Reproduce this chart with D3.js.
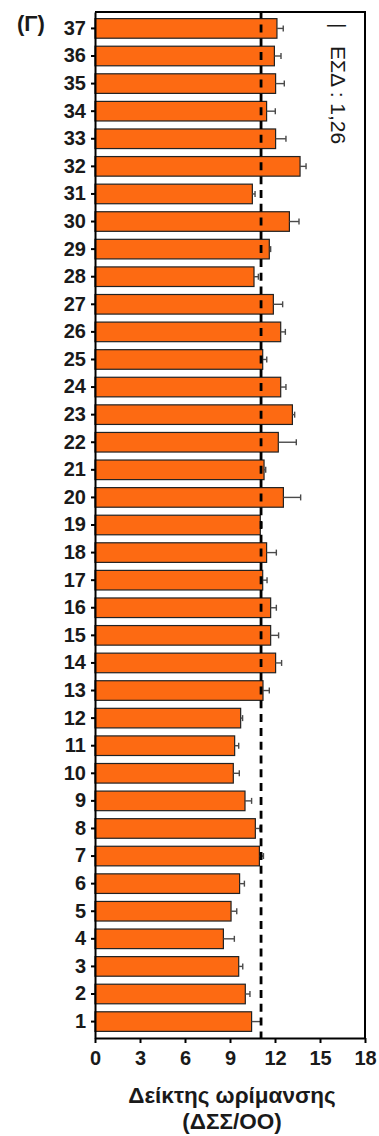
<!DOCTYPE html>
<html>
<head>
<meta charset="utf-8">
<script src="https://cdn.jsdelivr.net/npm/d3@7/dist/d3.min.js"></script>
<style>
  html, body { margin: 0; padding: 0; background: #fff; }
  svg { display: block; font-family: "Liberation Sans", Arial, sans-serif; }
</style>
</head>
<body>
<svg id="chart" width="379" height="1136"></svg>
<script>
// Genotype numbers (1..37) and maturity index means with their standard errors
const genotypes = [1, 2, 3, 4, 5, 6, 7, 8, 9, 10, 11, 12, 13, 14, 15, 16, 17, 18, 19,
  20, 21, 22, 23, 24, 25, 26, 27, 28, 29, 30, 31, 32, 33, 34, 35, 36, 37];
const meanIndex = [10.44, 10.02, 9.58, 8.56, 9.07, 9.64, 10.96, 10.69, 10.00, 9.22,
  9.31, 9.71, 11.20, 12.04, 11.71, 11.71, 11.18, 11.44, 11.02, 12.56, 11.27, 12.22,
  13.16, 12.38, 11.18, 12.38, 11.89, 10.60, 11.62, 12.96, 10.49, 13.67, 12.04, 11.44,
  12.04, 11.96, 12.13];
const stdError = [0.62, 0.31, 0.27, 0.73, 0.38, 0.32, 0.27, 0.31, 0.44, 0.40,
  0.27, 0.13, 0.42, 0.40, 0.53, 0.38, 0.29, 0.65, 0.10, 1.15, 0.11, 1.20,
  0.15, 0.35, 0.27, 0.31, 0.62, 0.29, 0.09, 0.64, 0.18, 0.40, 0.69, 0.58,
  0.58, 0.44, 0.42];
const xTicks = [0, 3, 6, 9, 12, 15, 18];
const referenceMean = 11.07;
const lsdLabel = "|   ΕΣΔ : 1,26";
const panelLabel = "(Γ)";
const axisTitle = ["Δείκτης ωρίμανσης", "(ΔΣΣ/ΟΟ)"];

const rows = genotypes.map((g, i) => ({ g, v: meanIndex[i], e: stdError[i] }));

const svg = d3.select("#chart");
const plotLeft = 95, plotRight = 365, plotTop = 12, plotBottom = 1038;

const x = d3.scaleLinear().domain([0, 18]).range([plotLeft, plotRight]);
const y = d3.scaleBand()
  .domain(genotypes.slice().reverse())
  .range([plotTop, plotBottom])
  .paddingInner(0.29)
  .paddingOuter(0.24);

// bars
svg.append("g").selectAll("rect").data(rows).join("rect")
  .attr("x", x(0))
  .attr("y", d => y(d.g))
  .attr("width", d => x(d.v) - x(0))
  .attr("height", y.bandwidth())
  .attr("fill", "#fd6a12")
  .attr("stroke", "#222")
  .attr("stroke-width", 1.2);

// error bars (upper side only)
const err = svg.append("g").attr("stroke", "#4a4a4a").attr("stroke-width", 1.4);
rows.forEach(d => {
  const cy = y(d.g) + y.bandwidth() / 2;
  err.append("line")
    .attr("x1", x(d.v)).attr("x2", x(d.v + d.e))
    .attr("y1", cy).attr("y2", cy);
  err.append("line")
    .attr("x1", x(d.v + d.e)).attr("x2", x(d.v + d.e))
    .attr("y1", cy - 3).attr("y2", cy + 3);
});

// dashed reference line, one dash through each bar and one through each gap
const period = y.step() / 2;
const dash = 8;
const c0 = y(genotypes[genotypes.length - 1]) + y.bandwidth() / 2 - plotTop;
const offset = ((dash / 2 - c0) % period + period) % period;
svg.append("line")
  .attr("x1", x(referenceMean)).attr("x2", x(referenceMean))
  .attr("y1", plotTop).attr("y2", plotBottom)
  .attr("stroke", "#000")
  .attr("stroke-width", 2.8)
  .attr("stroke-dasharray", `${dash},${period - dash}`)
  .attr("stroke-dashoffset", offset);

// frame top and right
svg.append("path")
  .attr("d", `M${plotLeft},${plotTop}H${plotRight}V${plotBottom}`)
  .attr("fill", "none")
  .attr("stroke", "#000")
  .attr("stroke-width", 2);

// axes
const yAxis = svg.append("g")
  .attr("transform", `translate(${plotLeft},0)`)
  .call(d3.axisLeft(y).tickSize(4).tickSizeOuter(0).tickPadding(5));
const xAxis = svg.append("g")
  .attr("transform", `translate(0,${plotBottom})`)
  .call(d3.axisBottom(x).tickValues(xTicks).tickSize(5).tickSizeOuter(0).tickPadding(8));

[yAxis, xAxis].forEach(a => {
  a.select(".domain").attr("stroke", "#000").attr("stroke-width", 2);
  a.selectAll(".tick line").attr("stroke", "#000").attr("stroke-width", 2);
  a.selectAll(".tick text")
    .attr("fill", "#1a1a1a")
    .attr("font-family", "'Liberation Sans', Arial, sans-serif")
    .attr("font-size", 20)
    .attr("font-weight", "bold");
});

// axis title
svg.append("g")
  .attr("font-size", 22.5)
  .attr("font-weight", "bold")
  .attr("fill", "#1a1a1a")
  .attr("text-anchor", "middle")
  .selectAll("text").data(axisTitle).join("text")
  .attr("x", (plotLeft + plotRight) / 2 + 2)
  .attr("y", (d, i) => 1103 + i * 26)
  .text(d => d);

// panel label
svg.append("text")
  .attr("x", 17).attr("y", 31)
  .attr("font-size", 22)
  .attr("font-weight", "bold")
  .attr("fill", "#1a1a1a")
  .text(panelLabel);

// LSD note, rotated
svg.append("text")
  .attr("transform", `translate(331,23) rotate(90)`)
  .attr("font-size", 21)
  .attr("fill", "#1a1a1a")
  .attr("xml:space", "preserve")
  .style("white-space", "pre")
  .text(lsdLabel);
</script>
</body>
</html>
